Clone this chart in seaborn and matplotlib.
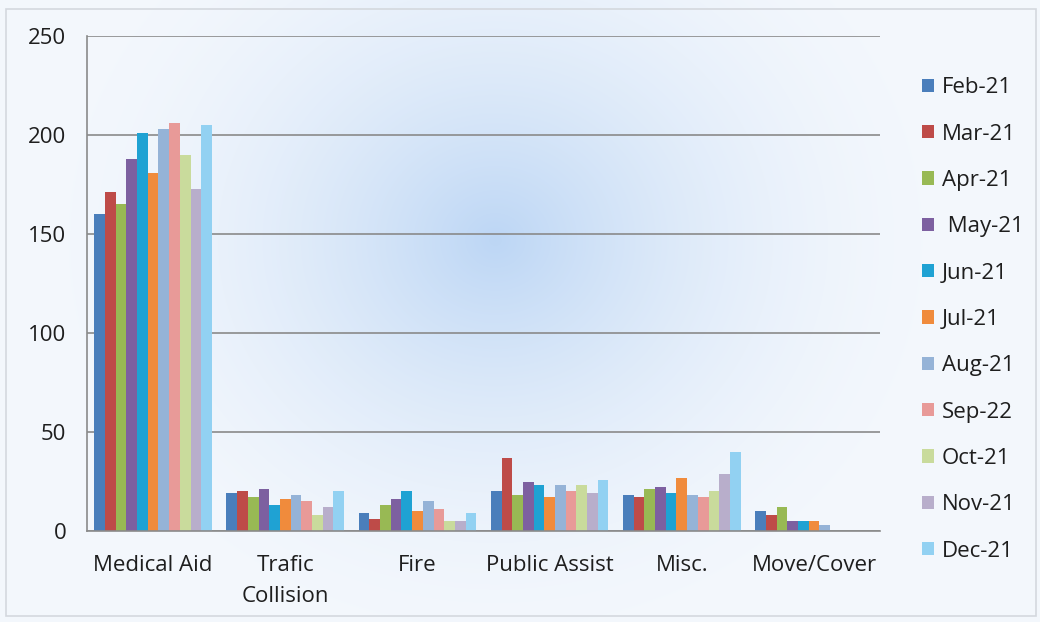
import numpy as np
import pandas as pd
import matplotlib
matplotlib.use("Agg")
import matplotlib.pyplot as plt
import seaborn as sns

# ── Data ──────────────────────────────────────────────────────────────────────
categories = ["Medical Aid", "Trafic\nCollision", "Fire", "Public Assist", "Misc.", "Move/Cover"]
months = ["Feb-21", "Mar-21", "Apr-21", " May-21", "Jun-21", "Jul-21",
          "Aug-21", "Sep-22", "Oct-21", "Nov-21", "Dec-21"]

medical_aid    = [160, 171, 165, 188, 201, 181, 203, 206, 190, 173, 205]
trafic_coll    = [19, 20, 17, 21, 13, 16, 18, 15, 8, 12, 20]
fire           = [9, 6, 13, 16, 20, 10, 15, 11, 5, 5, 9]
public_assist  = [20, 37, 18, 25, 23, 17, 23, 20, 23, 19, 26]
misc           = [18, 17, 21, 22, 19, 27, 18, 17, 20, 29, 40]
move_cover     = [10, 8, 12, 5, 5, 5, 3, 0, 0, 0, 0]

month_colors = ["#4A7EBB", "#BE4B48", "#98B954", "#7D60A0", "#1FA2D3", "#F08B3C",
                "#95B3D7", "#E89A98", "#C9DB9C", "#B8AECB", "#92D1F2"]

series = [medical_aid, trafic_coll, fire, public_assist, misc, move_cover]
rows = []
for cat, vals in zip(categories, series):
    for m, v in zip(months, vals):
        rows.append({"category": cat, "month": m, "value": v})
df = pd.DataFrame(rows)

# ── Figure ────────────────────────────────────────────────────────────────────
sns.set_style("white")
plt.rcParams["font.family"] = ["Open Sans", "DejaVu Sans"]

fig = plt.figure(figsize=(10.4, 6.22), dpi=100)

# soft bluish glow behind the chart
bg = fig.add_axes([0, 0, 1, 1], zorder=-10)
yy, xx = np.mgrid[0:622, 0:1040]
r = np.sqrt(((xx - 495) / 1.1) ** 2 + (yy - 240) ** 2)
glow = np.clip(1 - r / 420, 0, 1) ** 1.8
c_out = np.array([0.955, 0.97, 0.99])
c_in = np.array([0.74, 0.84, 0.96])
img = c_out + (c_in - c_out) * glow[..., None]
bg.imshow(img, extent=[0, 1, 0, 1], aspect="auto")
bg.add_patch(plt.Rectangle((0.006, 0.01), 0.99, 0.975, fill=False,
                           edgecolor="#d4d8de", lw=1.2, transform=bg.transAxes))
bg.axis("off")

ax = fig.add_axes([0.0837, 0.1463, 0.7625, 0.7957])
ax.patch.set_alpha(0)

sns.barplot(data=df, x="category", y="value", hue="month", palette=month_colors,
            width=0.89, gap=0, saturation=1, linewidth=0, ax=ax, legend=True)

ax.set_ylim(0, 250)
ax.set_yticks([0, 50, 100, 150, 200, 250])
ax.set_xlim(-0.5, len(categories) - 0.5)
ax.yaxis.grid(True, color="#8a8a8a", lw=1.2)
ax.set_axisbelow(True)
ax.set_xlabel("")
ax.set_ylabel("")

for s in ["top", "right"]:
    ax.spines[s].set_visible(False)
for s in ["left", "bottom"]:
    ax.spines[s].set_color("#8a8a8a")
    ax.spines[s].set_linewidth(1.2)

ax.tick_params(axis="y", length=0, labelsize=16, pad=15, colors="#1e1e1e")
ax.tick_params(axis="x", length=0, labelsize=16, pad=17, colors="#1e1e1e")
for lbl in ax.get_xticklabels():
    lbl.set_linespacing(1.65)
ax.set_xticks(np.arange(-0.5, len(categories), 1.0), minor=True)
ax.tick_params(axis="x", which="minor", length=5, color="#8a8a8a", width=1.2)

handles, labels = ax.get_legend_handles_labels()
ax.get_legend().remove()
fig.legend(handles, labels, loc="upper left", bbox_to_anchor=(0.878, 0.89),
           frameon=False, fontsize=16, handlelength=0.55, handleheight=0.55,
           handletextpad=0.35, labelspacing=1.14, borderaxespad=0,
           labelcolor="#1e1e1e")

plt.savefig("out.png", dpi=100)
plt.close()
